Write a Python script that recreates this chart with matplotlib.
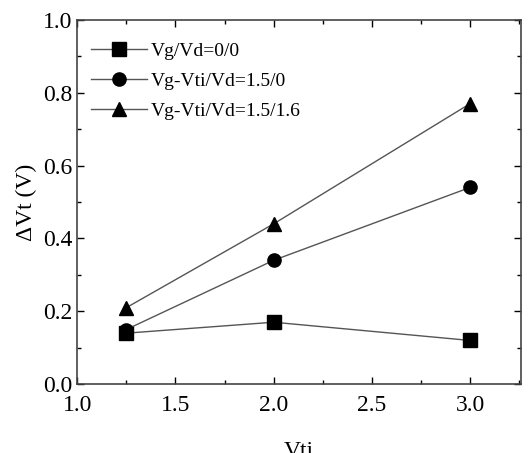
import matplotlib

matplotlib.use("Agg")
import matplotlib.pyplot as plt
from matplotlib.ticker import MultipleLocator

vti = [1.25, 2.0, 3.0]
dvt_00 = [0.14, 0.17, 0.12]
dvt_15_0 = [0.15, 0.34, 0.54]
dvt_15_16 = [0.21, 0.44, 0.77]

labels = ["Vg/Vd=0/0", "Vg-Vti/Vd=1.5/0", "Vg-Vti/Vd=1.5/1.6"]
markers = ["s", "o", "^"]

plt.rcParams["font.family"] = ["Liberation Serif", "DejaVu Serif"]

fig = plt.figure(figsize=(5.29, 4.53), dpi=100)
ax = fig.add_axes([0.146, 0.152, 0.839, 0.804])

for ys, m, lab in zip([dvt_00, dvt_15_0, dvt_15_16], markers, labels):
    ax.plot(vti, ys, color="#555555", linewidth=1.0, marker=m, markersize=9.5,
            markerfacecolor="black", markeredgecolor="black", label=lab)

ax.set_xlim(1.0, 3.26)
ax.set_ylim(0.0, 1.0)
ax.xaxis.set_major_locator(MultipleLocator(0.5))
ax.xaxis.set_minor_locator(MultipleLocator(0.25))
ax.yaxis.set_major_locator(MultipleLocator(0.2))
ax.yaxis.set_minor_locator(MultipleLocator(0.1))
ax.tick_params(which="both", direction="in", top=True, right=True, labelsize=17)
ax.tick_params(axis="x", pad=8)
ax.tick_params(which="major", length=5, width=1)
ax.tick_params(which="minor", length=3, width=1)
for s in ax.spines.values():
    s.set_color("#444444")
    s.set_linewidth(1.2)

ax.set_xlabel("Vti", fontsize=17, labelpad=18)
ax.set_ylabel("ΔVt (V)", fontsize=17, labelpad=4)

ax.legend(loc="upper left", frameon=False, fontsize=14, handlelength=2.9,
          handletextpad=0.2, labelspacing=0.62, borderaxespad=0.3,
          bbox_to_anchor=(0.0, 0.975))

fig.savefig("out.png", dpi=100)
